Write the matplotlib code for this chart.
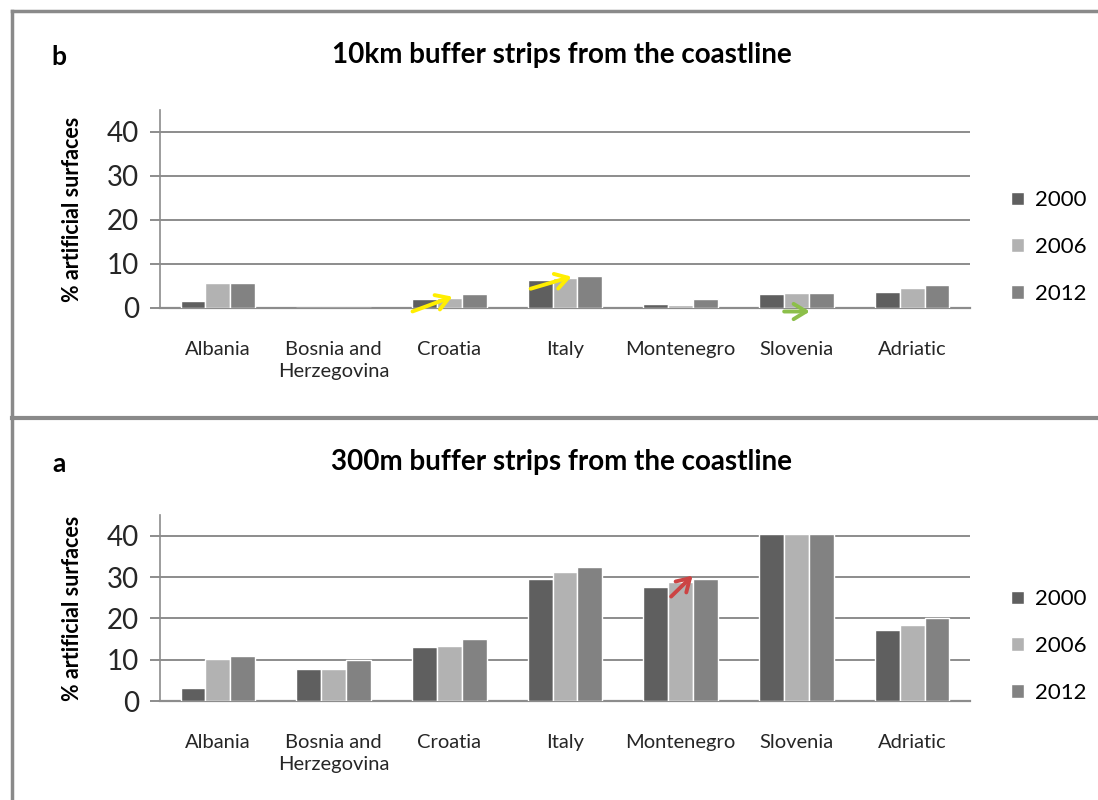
import matplotlib
matplotlib.use("Agg")
import matplotlib.pyplot as plt
import numpy as np
from matplotlib.lines import Line2D

plt.rcParams['font.family'] = ['Lato', 'DejaVu Sans']

countries = ["Albania", "Bosnia and\nHerzegovina", "Croatia", "Italy",
             "Montenegro", "Slovenia", "Adriatic"]
years = ["2000", "2006", "2012"]
colors = ["#5f5f5f", "#b2b2b2", "#828282"]

# % artificial surfaces, 10km strip (panel b)
km10_2000 = [1.7, 0.0, 2.1, 6.3, 0.8, 3.1, 3.7]
km10_2006 = [5.6, 0.0, 2.3, 6.9, 0.7, 3.4, 4.6]
km10_2012 = [5.6, 0.0, 3.1, 7.3, 2.1, 3.4, 5.3]

# % artificial surfaces, 300m strip (panel a)
m300_2000 = [3.2, 7.8, 13.0, 29.6, 27.6, 40.5, 17.1]
m300_2006 = [10.2, 7.8, 13.4, 31.1, 28.8, 40.5, 18.3]
m300_2012 = [10.9, 9.9, 15.1, 32.4, 29.6, 40.5, 20.0]

fig = plt.figure(figsize=(10.98, 8.0), dpi=100)

# panel frame lines
fig.add_artist(Line2D([12/1098, 1], [1 - 11/800, 1 - 11/800], color="#8a8a8a", lw=2.5))
fig.add_artist(Line2D([12/1098, 12/1098], [0, 1 - 11/800], color="#8a8a8a", lw=2.5))
fig.add_artist(Line2D([12/1098, 1], [1 - 418/800, 1 - 418/800], color="#8a8a8a", lw=3))


def draw_panel(rect, series, title, letter, title_y, legend_y):
    ax = fig.add_axes(rect)
    x = np.arange(len(countries))
    w = 0.215
    for i, (vals, c, lab) in enumerate(zip(series, colors, years)):
        ax.bar(x + (i - 1) * w, vals, w, color=c, edgecolor="white",
               linewidth=1.0, label=lab, zorder=3)
    ax.set_xlim(-0.5, len(countries) - 0.5)
    ax.set_ylim(0, 45)
    ax.set_yticks([0, 10, 20, 30, 40])
    ax.yaxis.grid(True, color="#8c8c8c", linewidth=1.4, zorder=0)
    ax.set_axisbelow(True)
    for s in ["top", "right"]:
        ax.spines[s].set_visible(False)
    ax.spines["left"].set_color("#8c8c8c")
    ax.spines["bottom"].set_color("#8c8c8c")
    ax.spines["left"].set_linewidth(1.2)
    ax.spines["bottom"].set_linewidth(1.6)
    ax.tick_params(axis="y", length=7, width=1.4, color="#8c8c8c",
                   labelsize=20, labelcolor="#262626", pad=8)
    ax.tick_params(axis="x", length=0, labelsize=14.5, labelcolor="#262626", pad=24)
    ax.set_xticks(x)
    ax.set_xticklabels(countries, linespacing=1.3)
    ax.set_ylabel("% artificial surfaces", fontsize=15.5, fontweight="bold",
                  labelpad=17)
    fig.text(0.5115, title_y, title, ha="center", va="center",
             fontsize=20, fontweight="bold")
    fig.text(0.054, title_y - 0.002, letter, ha="center", va="center",
             fontsize=19, fontweight="bold")
    fig.legend(*ax.get_legend_handles_labels(), loc="center left",
               bbox_to_anchor=(0.903, legend_y), frameon=False, fontsize=16,
               handlelength=0.55, handleheight=0.55, handletextpad=0.5,
               labelspacing=1.2)
    return ax


ax_b = draw_panel([0.1457, 0.615, 0.7377, 0.2475],
                  [km10_2000, km10_2006, km10_2012],
                  "10km buffer strips from the coastline", "b",
                  1 - 55/800, 1 - 247/800)
ax_a = draw_panel([0.1457, 0.12375, 0.7377, 0.2325],
                  [m300_2000, m300_2006, m300_2012],
                  "300m buffer strips from the coastline", "a",
                  1 - 462/800, 1 - 646/800)

# hand-drawn highlight arrows
arrow = dict(arrowstyle="->,head_length=0.9,head_width=0.55", lw=2.8)
ax_b.annotate("", xy=(2 + 0.05, 2.8), xytext=(2 - 0.34, -1.0),
              arrowprops=dict(arrow, color="#ffee00"), annotation_clip=False)
ax_b.annotate("", xy=(3 + 0.08, 7.3), xytext=(3 - 0.32, 4.2),
              arrowprops=dict(arrow, color="#ffee00"), annotation_clip=False)
ax_b.annotate("", xy=(5 + 0.14, -0.8), xytext=(5 - 0.13, -0.8),
              arrowprops=dict(arrow, color="#8cbf4a"), annotation_clip=False)
ax_a.annotate("", xy=(4 + 0.12, 30.8), xytext=(4 - 0.1, 24.8),
              arrowprops=dict(arrow, color="#cc4444"), annotation_clip=False)

fig.savefig("out.png", dpi=100)
